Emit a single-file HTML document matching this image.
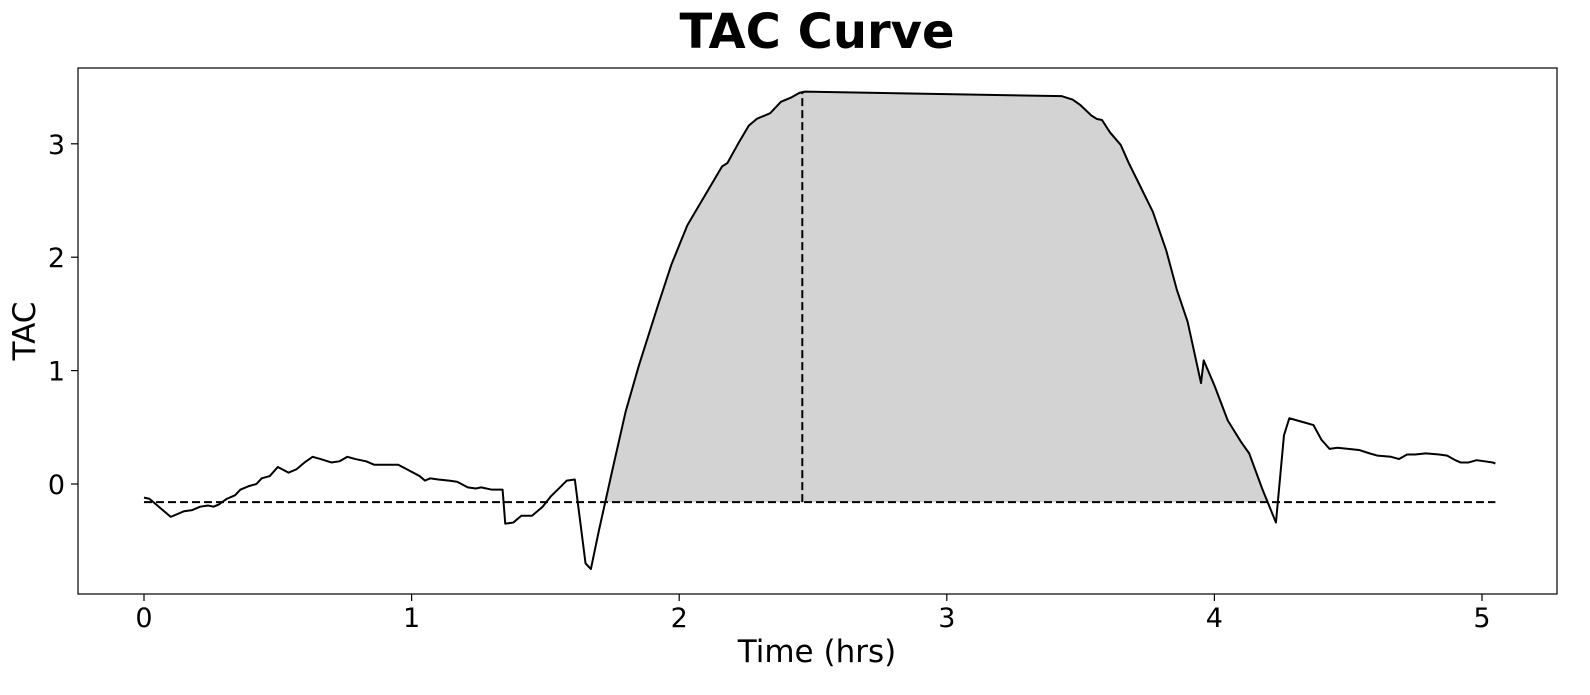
<!DOCTYPE html>
<html><head><meta charset="utf-8"><style>
body{margin:0;background:#fff;}
svg text{font-family:"DejaVu Sans","Liberation Sans",sans-serif;}
</style></head><body>
<svg id="chart" width="1590" height="690" xmlns="http://www.w3.org/2000/svg">
<text x="817" y="48" text-anchor="middle" font-size="48" font-weight="bold">TAC Curve</text>
<g id="plot"></g>
<rect x="78" y="68" width="1479" height="526" fill="none" stroke="#000" stroke-width="1.2"/>
<text x="817" y="662" text-anchor="middle" font-size="31">Time (hrs)</text>
<text transform="translate(35,331) rotate(-90)" text-anchor="middle" font-size="31">TAC</text>
</svg>
<script>
const times=[0,0.02,0.05,0.08,0.1,0.13,0.15,0.18,0.21,0.24,0.26,0.28,0.31,0.34,0.36,0.39,0.42,0.44,0.47,0.5,0.54,0.57,0.6,0.63,0.66,0.7,0.73,0.76,0.79,0.83,0.86,0.9,0.95,0.99,1.03,1.05,1.07,1.1,1.14,1.17,1.21,1.24,1.26,1.3,1.34,1.35,1.38,1.41,1.45,1.49,1.52,1.55,1.58,1.61,1.65,1.67,1.7,1.75,1.8,1.85,1.92,1.97,2.03,2.08,2.13,2.16,2.18,2.22,2.26,2.29,2.34,2.38,2.42,2.45,2.47,3.43,3.47,3.5,3.54,3.56,3.58,3.61,3.65,3.68,3.72,3.77,3.82,3.86,3.9,3.95,3.96,4.0,4.05,4.1,4.13,4.18,4.23,4.26,4.28,4.31,4.34,4.37,4.4,4.43,4.46,4.5,4.54,4.58,4.61,4.66,4.69,4.72,4.75,4.79,4.84,4.87,4.9,4.92,4.95,4.98,5.01,5.04,5.05];
const tac=[-0.12,-0.13,-0.19,-0.25,-0.29,-0.26,-0.24,-0.23,-0.2,-0.19,-0.2,-0.18,-0.13,-0.1,-0.05,-0.02,0,0.05,0.07,0.15,0.1,0.13,0.19,0.24,0.22,0.19,0.2,0.24,0.22,0.2,0.17,0.17,0.17,0.12,0.07,0.03,0.05,0.04,0.03,0.02,-0.03,-0.04,-0.03,-0.05,-0.05,-0.35,-0.34,-0.28,-0.28,-0.2,-0.11,-0.04,0.03,0.04,-0.7,-0.75,-0.41,0.12,0.64,1.05,1.57,1.93,2.28,2.48,2.68,2.8,2.83,3.0,3.16,3.22,3.27,3.37,3.41,3.45,3.46,3.42,3.39,3.34,3.25,3.22,3.21,3.1,2.99,2.83,2.64,2.4,2.06,1.71,1.43,0.89,1.09,0.87,0.56,0.37,0.27,-0.05,-0.34,0.43,0.58,0.56,0.54,0.52,0.39,0.31,0.32,0.31,0.3,0.27,0.25,0.24,0.22,0.26,0.26,0.27,0.26,0.25,0.21,0.19,0.19,0.21,0.2,0.19,0.18];
const baseline=-0.16;
const peakTime=2.46;
const xTicks=[0,1,2,3,4,5];
const yTicks=[0,1,2,3];
const X=t=>144+t*267.6;
const Y=v=>484-v*113.4;
const NS="http://www.w3.org/2000/svg";
const g=document.getElementById('plot');
function mk(tag,attrs){const e=document.createElementNS(NS,tag);for(const k in attrs)e.setAttribute(k,attrs[k]);g.appendChild(e);return e;}
let pk=tac.indexOf(Math.max(...tac));
let s=pk;while(s>0&&tac[s-1]>baseline)s--;
let e=pk;while(e<tac.length-1&&tac[e+1]>baseline)e++;
function cross(i,j){const f=(baseline-tac[i])/(tac[j]-tac[i]);return times[i]+f*(times[j]-times[i]);}
const t0=cross(s-1,s),t1=cross(e,e+1);
let pts=[[X(t0),Y(baseline)]];
for(let i=s;i<=e;i++)pts.push([X(times[i]),Y(tac[i])]);
pts.push([X(t1),Y(baseline)]);
const fill=mk('polygon',{points:pts.map(p=>p.join(',')).join(' '),fill:'#d3d3d3'});


const bl=mk('line',{x1:X(0),x2:X(times[times.length-1]),y1:Y(baseline),y2:Y(baseline),stroke:'#000','stroke-width':2,'stroke-dasharray':'8,4'});


const pl=mk('line',{x1:X(peakTime),x2:X(peakTime),y1:Y(baseline),y2:Y(Math.max(...tac)),stroke:'#000','stroke-width':2,'stroke-dasharray':'8,4'});


const line=mk('polyline',{points:times.map((t,i)=>X(t)+','+Y(tac[i])).join(' '),fill:'none',stroke:'#000','stroke-width':2,'stroke-linejoin':'round'});


xTicks.forEach(t=>{
 const tk=mk('line',{x1:X(t),x2:X(t),y1:594,y2:601,stroke:'#000','stroke-width':1.2});
 
 
 const tx=mk('text',{x:X(t),y:627,'text-anchor':'middle','font-size':27});tx.textContent=t;
 
 
});
yTicks.forEach(v=>{
 const tk=mk('line',{x1:71,x2:78,y1:Y(v),y2:Y(v),stroke:'#000','stroke-width':1.2});
 
 
 const tx=mk('text',{x:65,y:Y(v)+10,'text-anchor':'end','font-size':27});tx.textContent=v;
 
 
});
</script>
</body></html>
